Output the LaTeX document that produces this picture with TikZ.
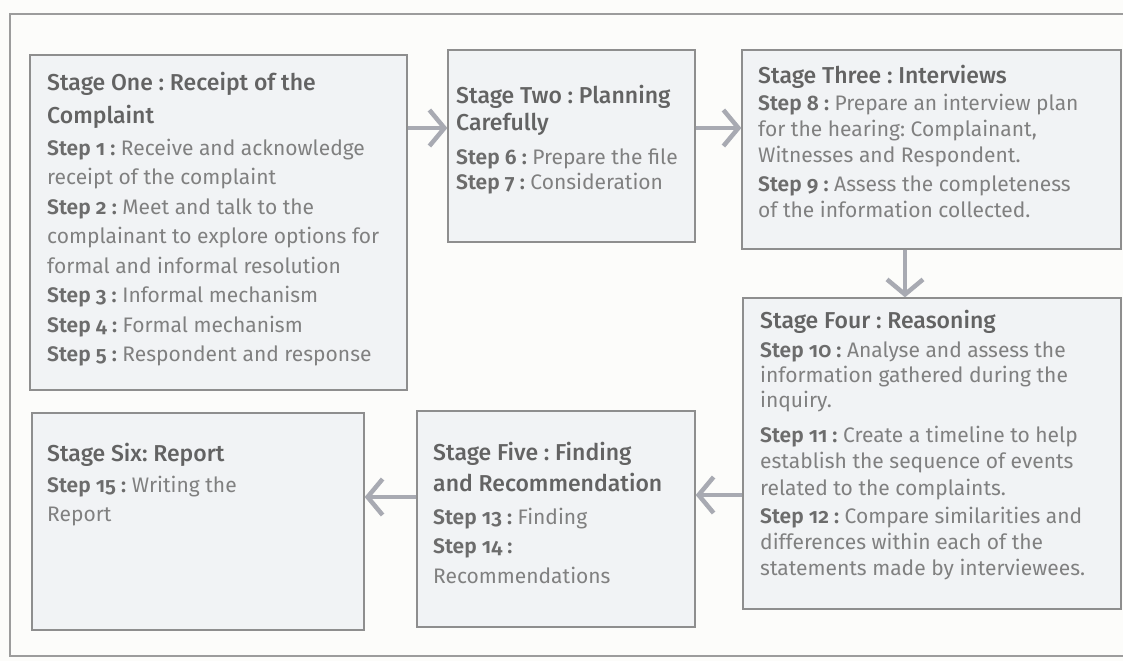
\documentclass[tikz,border=0pt]{standalone}
\usepackage{fontspec}
\setmainfont{Fira Sans}[Numbers=OldStyle, BoldFont={Fira Sans SemiBold}]
\newfontfamily\hdfont{Fira Sans Medium}[Numbers=OldStyle]
\usetikzlibrary{arrows.meta}
\definecolor{bgc}{HTML}{FCFCFA}
\definecolor{framec}{HTML}{9C9C9C}
\definecolor{boxfill}{HTML}{F1F3F5}
\definecolor{boxdraw}{HTML}{8E8E8E}
\definecolor{headc}{HTML}{636363}
\definecolor{stepc}{HTML}{6C6C6C}
\definecolor{bodyc}{HTML}{808080}
\definecolor{arrc}{HTML}{A8AAB2}
\newcommand\hd[1]{{\hdfont\fontsize{23}{23}\selectfont\color{headc}#1}}
\newcommand\st[1]{{\bfseries\color{stepc}#1}}
\frenchspacing
\begin{document}
\begin{tikzpicture}[x=1pt,y=-1pt,
  box/.style={draw=boxdraw, fill=boxfill, line width=1.3pt, inner sep=0pt},
  txt/.style={anchor=north west, inner sep=0pt, align=left, text=bodyc},
  arr/.style={draw=arrc, line width=4.5pt, -{Straight Barb[length=15pt,width=36pt]}}]
\useasboundingbox (0,0) rectangle (1123,661);
\fill[bgc] (0,0) rectangle (1123,661);
\draw[framec, line width=2pt] (1123,14) -- (10,14) -- (10,656) -- (1123,656);

\node[box, minimum width=377pt, minimum height=335pt] (b1) at (218.5,222.5) {};
\node[box, minimum width=247pt, minimum height=192pt] (b2) at (571.5,146) {};
\node[box, minimum width=379pt, minimum height=199pt] (b3) at (931.5,149.5) {};
\node[box, minimum width=378pt, minimum height=311pt] (b4) at (932,453.5) {};
\node[box, minimum width=278pt, minimum height=216pt] (b5) at (556,519) {};
\node[box, minimum width=332pt, minimum height=217pt] (b6) at (198,521.5) {};

\node[txt, font=\fontsize{21}{29.5}\selectfont] (t1) at (47,69.35) {%
\strut\hd{Stage One : Receipt of the}\\[3.5pt]
\hd{Complaint}\\[2.5pt]
\st{Step 1 :} Receive and acknowledge\\
receipt of the complaint\\
\st{Step 2 :} Meet and talk to the\\
complainant to explore options for\\
formal and informal resolution\\
\st{Step 3 :} Informal mechanism\\
\st{Step 4 :} Formal mechanism\\
\st{Step 5 :} Respondent and response};

\node[txt, font=\fontsize{21}{28}\selectfont] (t2) at (456,83.4) {%
\strut\hd{Stage Two : Planning}\\[-1pt]
\hd{Carefully}\\[6pt]
\st{Step 6 :} Prepare the file\\[-3pt]
\st{Step 7 :} Consideration};

\node[txt, font=\fontsize{21}{26}\selectfont] (t3) at (758,64.8) {%
\strut\hd{Stage Three : Interviews}\\[1pt]
\st{Step 8 :} Prepare an interview plan\\
for the hearing: Complainant,\\
Witnesses and Respondent.\\[3pt]
\st{Step 9 :} Assess the completeness\\
of the information collected.};

\node[txt, font=\fontsize{21}{26}\selectfont] (t4) at (760,309.8) {%
\strut\hd{Stage Four : Reasoning}\\[3pt]
\st{Step 10 :} Analyse and assess the\\[-1pt]
information gathered during the\\[-1pt]
inquiry.\\[9pt]
\st{Step 11 :} Create a timeline to help\\
establish the sequence of events\\[1pt]
related to the complaints.\\[2pt]
\st{Step 12 :} Compare similarities and\\
differences within each of the\\
statements made by interviewees.};

\node[txt, font=\fontsize{21}{29.5}\selectfont] (t5) at (433,439.35) {%
\strut\hd{Stage Five : Finding}\\[1.5pt]
\hd{and Recommendation}\\[3.5pt]
\st{Step 13 :} Finding\\
\st{Step 14 :}\\
Recommendations};

\node[txt, font=\fontsize{21}{29.5}\selectfont] (t6) at (47,440.35) {%
\strut\hd{Stage Six: Report}\\[1.5pt]
\st{Step 15 :} Writing the\\
Report};

\draw[arr] (b1.east |- 0,128) -- (b2.west |- 0,128);
\draw[arr] (b2.east |- 0,128) -- (b3.west |- 0,128);
\draw[arr] (b3.south -| 905,0) -- (b4.north -| 905,0);
\draw[arr] (b4.west |- 0,495) -- (b5.east |- 0,495);
\draw[arr] (b5.west |- 0,497) -- (b6.east |- 0,497);
\end{tikzpicture}
\end{document}
